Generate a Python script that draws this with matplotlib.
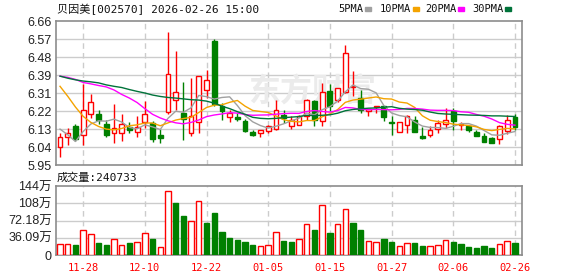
import matplotlib
matplotlib.use('Agg')
import matplotlib.pyplot as plt
from matplotlib.patches import Rectangle
import numpy as np
import pandas as pd

# daily candles, 2025-11-25 .. 2026-02-26 (60 trading days)
opens = [6.04, 6.09, 6.14, 6.10, 6.20, 6.20, 6.15, 6.11, 6.11, 6.135,
         6.115, 6.16, 6.155, 6.10, 6.21, 6.27, 6.205, 6.11, 6.16, 6.32,
         6.56, 6.24, 6.185, 6.187, 6.165, 6.113, 6.107, 6.12, 6.127, 6.195,
         6.14, 6.148, 6.19, 6.264, 6.165, 6.313, 6.272, 6.308, 6.335, 6.28,
         6.214, 6.236, 6.239, 6.16, 6.115, 6.148, 6.173, 6.094, 6.099, 6.127,
         6.153, 6.214, 6.147, 6.143, 6.112, 6.094, 6.085, 6.077, 6.12, 6.186]
highs = [6.11, 6.13, 6.15, 6.35, 6.30, 6.22, 6.17, 6.25, 6.20, 6.16,
         6.19, 6.265, 6.165, 6.127, 6.605, 6.51, 6.36, 6.38, 6.39, 6.42,
         6.57, 6.255, 6.22, 6.206, 6.175, 6.125, 6.125, 6.145, 6.272, 6.222,
         6.19, 6.195, 6.275, 6.272, 6.352, 6.35, 6.33, 6.54, 6.412, 6.322,
         6.226, 6.243, 6.242, 6.19, 6.162, 6.198, 6.193, 6.137, 6.143, 6.173,
         6.231, 6.231, 6.16, 6.148, 6.123, 6.107, 6.086, 6.145, 6.198, 6.203]
lows = [5.99, 6.05, 6.07, 6.05, 6.18, 6.15, 6.09, 6.06, 6.07, 6.11,
        6.09, 6.13, 6.065, 6.057, 6.20, 6.22, 6.075, 6.095, 6.11, 6.28,
        6.24, 6.17, 6.16, 6.165, 6.115, 6.095, 6.088, 6.107, 6.125, 6.157,
        6.127, 6.148, 6.173, 6.143, 6.143, 6.214, 6.26, 6.305, 6.288, 6.206,
        6.19, 6.206, 6.165, 6.099, 6.115, 6.107, 6.115, 6.077, 6.087, 6.11,
        6.132, 6.123, 6.123, 6.115, 6.095, 6.065, 6.057, 6.054, 6.104, 6.123]
closes = [6.09, 6.11, 6.08, 6.22, 6.26, 6.17, 6.10, 6.13, 6.15, 6.125,
          6.135, 6.20, 6.08, 6.085, 6.40, 6.31, 6.175, 6.19, 6.39, 6.37,
          6.25, 6.215, 6.205, 6.177, 6.12, 6.097, 6.123, 6.143, 6.222, 6.18,
          6.17, 6.19, 6.272, 6.173, 6.308, 6.242, 6.33, 6.50, 6.34, 6.222,
          6.225, 6.242, 6.186, 6.157, 6.16, 6.193, 6.115, 6.085, 6.123, 6.157,
          6.173, 6.165, 6.153, 6.123, 6.095, 6.065, 6.057, 6.143, 6.173, 6.137]
volumes = [232000, 232000, 211000, 528000, 437000, 254000, 211000, 331000, 204000, 254000,
           268000, 458000, 338000, 162000, 1346000, 1078000, 824000, 719000, 1120000, 676000,
           888000, 486000, 359000, 324000, 275000, 211000, 190000, 205000, 480000, 300000,
           280000, 335000, 648000, 528000, 1050000, 458000, 648000, 965000, 676000, 528000,
           296000, 268000, 338000, 275000, 190000, 247000, 247000, 190000, 190000, 211000,
           317000, 275000, 232000, 169000, 148000, 190000, 148000, 232000, 289000, 240733]

# moving averages before the window is full
ma5_head = [6.127, 6.099, 6.066, 6.115]
ma10_head = [6.338, 6.289, 6.236, 6.19, 6.16, 6.14, 6.127, 6.123, 6.13]
ma20_head = [6.388, 6.382, 6.372, 6.357, 6.35, 6.342, 6.335, 6.32, 6.298, 6.28,
             6.258, 6.228, 6.2, 6.182, 6.168, 6.158, 6.153, 6.16, 6.172]
ma30_head = [6.388, 6.378, 6.37, 6.364, 6.36, 6.355, 6.345, 6.338, 6.332, 6.322,
             6.313, 6.305, 6.295, 6.288, 6.283, 6.28, 6.276, 6.272, 6.27, 6.265,
             6.255, 6.24, 6.228, 6.213, 6.2, 6.185, 6.18, 6.178, 6.18]

tick_pos = [3, 11, 19, 27, 35, 43, 51, 59]
tick_labels = ['11-28', '12-10', '12-22', '01-05', '01-15', '01-27', '02-06', '02-26']
price_labels = ['5.95', '6.04', '6.13', '6.22', '6.31', '6.39', '6.48', '6.57', '6.66']
vol_labels = ['0', '36.09万', '72.18万', '108万', '144万']

RED = '#ff0000'
GREEN = '#008000'
GRID = '#cccccc'
FRAME = '#8c8c8c'
MA_COLORS = {'5PMA': '#a0a0a0', '10PMA': '#f4a300', '20PMA': '#ff00ff', '30PMA': '#00733a'}

opens = np.array(opens); highs = np.array(highs)
lows = np.array(lows); closes = np.array(closes)
volumes = np.array(volumes)
x = np.arange(len(closes))


def moving_avg(n, head):
    ma = pd.Series(closes).rolling(n).mean().to_numpy()
    ma[:n - 1] = head
    return ma


mas = {'5PMA': moving_avg(5, ma5_head), '10PMA': moving_avg(10, ma10_head),
       '20PMA': moving_avg(20, ma20_head), '30PMA': moving_avg(30, ma30_head)}

W, H = 578, 276
fig = plt.figure(figsize=(W / 100, H / 100), dpi=100)
ax = fig.add_axes([56 / W, 111 / H, 466 / W, 144 / H])
axv = fig.add_axes([56 / W, 21 / H, 466 / W, 69 / H])

mono_cjk = ['DejaVu Sans Mono', 'Noto Sans CJK SC']
sans_cjk = ['Liberation Sans', 'Noto Sans CJK SC']

for a in (ax, axv):
    a.set_xlim(-0.52, len(x) - 0.08)
    for s in a.spines.values():
        s.set_color(FRAME)
        s.set_linewidth(1.2)
    a.tick_params(length=0, labelsize=9, colors='#222222', pad=3)
    for t in tick_pos:
        a.axvline(t, color=GRID, lw=1, ls=(0, (4, 3)), zorder=0)

# price panel
p_lo, p_hi = 5.95, 6.66
ax.set_ylim(p_lo, p_hi)
p_ticks = np.linspace(p_lo, p_hi, len(price_labels))
ax.set_yticks(p_ticks)
ax.set_yticklabels(price_labels, family=sans_cjk)
for t in p_ticks[1:-1]:
    ax.axhline(t, color=GRID, lw=1, zorder=0)
ax.set_xticks([])

ax.text(0.55, 0.5, '东方财富', transform=ax.transAxes, ha='center', va='center',
        fontsize=23, fontweight='bold', color='#ebebeb', family=sans_cjk, zorder=0.5)

up = closes >= opens
ax.vlines(x, lows, highs, colors=np.where(up, RED, GREEN), lw=1, zorder=2)
body = np.maximum(np.abs(closes - opens), 0.001)
ax.bar(x, body, bottom=np.minimum(opens, closes), width=0.62,
       color=np.where(up, 'white', GREEN), edgecolor=np.where(up, RED, GREEN),
       linewidth=1, zorder=3)

for name, ma in mas.items():
    ax.plot(x, ma, color=MA_COLORS[name], lw=1, zorder=4)

# volume panel
vol_up = np.r_[closes[0] >= opens[0], closes[1:] >= closes[:-1]]
v_hi = 1443600
axv.set_ylim(0, v_hi)
v_ticks = np.linspace(0, v_hi, len(vol_labels))
axv.set_yticks(v_ticks)
axv.set_yticklabels(vol_labels, family=sans_cjk)
for t in v_ticks[1:-1]:
    axv.axhline(t, color=GRID, lw=1, zorder=0)
axv.bar(x, volumes, width=0.7, color=np.where(vol_up, 'white', GREEN),
        edgecolor=np.where(vol_up, RED, GREEN), linewidth=1, zorder=3)
axv.set_xticks(tick_pos)
axv.set_xticklabels(tick_labels, family='DejaVu Sans Mono', fontsize=7.5, color=RED)
axv.tick_params(axis='x', pad=6, colors=RED)

# header texts
fig.text(57 / W, 1 - 9 / H, '贝因美[002570] 2026-02-26 15:00', family=mono_cjk,
         fontsize=8, va='center', ha='left', color='#111111')
fig.text(57 / W, 1 - 178 / H, '成交量:240733', family=mono_cjk,
         fontsize=8, va='center', ha='left', color='#111111')

legend_x = [(338, 365), (380, 413), (425, 458), (472, 505)]
for (tx, mx), name in zip(legend_x, MA_COLORS):
    fig.text(tx / W, 1 - 9 / H, name, family='DejaVu Sans Mono', fontsize=7.5,
             va='center', ha='left', color='#111111')
    fig.patches.append(Rectangle((mx / W, 1 - 10.5 / H), 6 / W, 3.5 / H,
                                 transform=fig.transFigure, color=MA_COLORS[name]))

fig.savefig('out.png', dpi=100)
